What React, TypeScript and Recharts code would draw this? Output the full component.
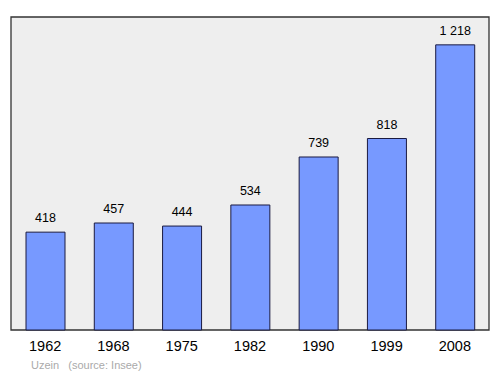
import { BarChart, Bar, XAxis, YAxis, ReferenceArea, LabelList } from 'recharts';

const years = ['1962', '1968', '1975', '1982', '1990', '1999', '2008'];
const population = [418, 457, 444, 534, 739, 818, 1218];
const yMax = 1337;

const data = years.map((year, i) => ({ year, population: population[i] }));

// thousands separated by a space, as in the French source
const formatValue = (v: number) => v.toString().replace(/\B(?=(\d{3})+(?!\d))/g, ' ');

export default function App() {
  return (
    <div style={{ position: 'absolute', left: 0, top: 0, width: 500, height: 374, fontFamily: 'Liberation Sans, Arial, sans-serif' }}>
      <BarChart
        width={500}
        height={374}
        data={data}
        margin={{ top: 17, right: 6, left: 5, bottom: 14 }}
      >
        <XAxis
          dataKey="year"
          height={30}
          axisLine={false}
          tickLine={false}
          padding={{ left: 6, right: 5 }}
          tick={{ fill: '#000', fontSize: 14.5 }}
          dy={3}
        />
        <YAxis hide domain={[0, yMax]} />
        <ReferenceArea
          y1={0}
          y2={yMax}
          fill="#eeeeee"
          fillOpacity={1}
          stroke="#333"
          strokeWidth={1.3}
          ifOverflow="visible"
        />
        <Bar
          dataKey="population"
          fill="#7799ff"
          stroke="#1a1a40"
          strokeWidth={1}
          barSize={39}
          isAnimationActive={false}
        >
          <LabelList
            dataKey="population"
            position="top"
            offset={10}
            formatter={(v: any) => formatValue(Number(v))}
            style={{ fill: '#000', fontSize: 12.5 }}
          />
        </Bar>
      </BarChart>
      <div style={{ position: 'absolute', left: 31, top: 359, fontSize: 11, color: '#aaa', whiteSpace: 'pre' }}>
        {'Uzein   (source: Insee)'}
      </div>
    </div>
  );
}
